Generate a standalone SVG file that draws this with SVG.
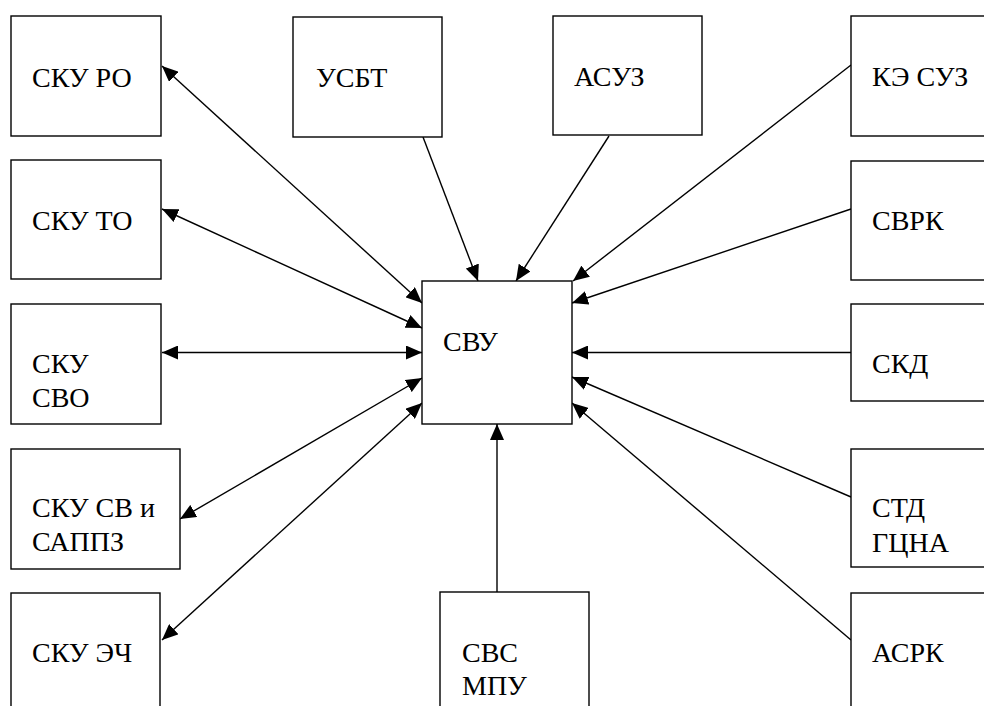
<svg xmlns="http://www.w3.org/2000/svg" width="984" height="706" viewBox="0 0 984 706">
  <style>
    .box { fill: #fff; stroke: #000; stroke-width: 1.4; }
    .link { stroke: #000; stroke-width: 1.4; fill: none; }
  </style>
  <defs>
    <marker id="head" markerUnits="userSpaceOnUse" markerWidth="16" markerHeight="14" refX="16" refY="7" orient="auto-start-reverse">
      <path d="M0,0 L16,7 L0,14 Z" fill="#000"/>
    </marker>
  </defs>

  <rect width="984" height="706" fill="#fff"/>

  <g id="connectors">
    <!-- bidirectional links on the left -->
    <line class="link" x1="162" y1="66" x2="422" y2="303" marker-start="url(#head)" marker-end="url(#head)"/>
    <line class="link" x1="162" y1="209" x2="422" y2="328" marker-start="url(#head)" marker-end="url(#head)"/>
    <line class="link" x1="162" y1="352.5" x2="422" y2="352.5" marker-start="url(#head)" marker-end="url(#head)"/>
    <line class="link" x1="180" y1="519" x2="422" y2="378" marker-start="url(#head)" marker-end="url(#head)"/>
    <line class="link" x1="162" y1="640" x2="422" y2="403" marker-start="url(#head)" marker-end="url(#head)"/>
    <!-- inbound links from the top -->
    <line class="link" x1="423" y1="137" x2="478" y2="281" marker-end="url(#head)"/>
    <line class="link" x1="609" y1="136" x2="516" y2="281" marker-end="url(#head)"/>
    <line class="link" x1="851" y1="65" x2="573" y2="281" marker-end="url(#head)"/>
    <!-- inbound links from the right -->
    <line class="link" x1="851" y1="209" x2="572" y2="303" marker-end="url(#head)"/>
    <line class="link" x1="851" y1="352.5" x2="572" y2="352.5" marker-end="url(#head)"/>
    <line class="link" x1="851" y1="497" x2="572" y2="377" marker-end="url(#head)"/>
    <line class="link" x1="851" y1="640" x2="572" y2="403" marker-end="url(#head)"/>
    <!-- inbound link from below -->
    <line class="link" x1="497" y1="592" x2="497" y2="424" marker-end="url(#head)"/>
  </g>

  <g id="svu">
    <rect class="box" x="422" y="281" width="150" height="143"/>
    <text x="443" y="351" font-family="Liberation Serif" font-size="28">СВУ</text>
  </g>

  <g id="sku-ro">
    <rect class="box" x="11" y="16" width="150" height="120"/>
    <text x="32" y="87" font-family="Liberation Serif" font-size="28">СКУ РО</text>
  </g>
  <g id="sku-to">
    <rect class="box" x="11" y="160" width="150" height="119"/>
    <text x="32" y="230" font-family="Liberation Serif" font-size="28">СКУ ТО</text>
  </g>
  <g id="sku-svo">
    <rect class="box" x="11" y="304" width="150" height="120"/>
    <text x="32" y="373" font-family="Liberation Serif" font-size="28">СКУ</text>
    <text x="32" y="407" font-family="Liberation Serif" font-size="28">СВО</text>
  </g>
  <g id="sku-sv-sappz">
    <rect class="box" x="11" y="449" width="169" height="120"/>
    <text x="32" y="517" font-family="Liberation Serif" font-size="28">СКУ СВ и</text>
    <text x="32" y="551" font-family="Liberation Serif" font-size="28">САППЗ</text>
  </g>
  <g id="sku-ech">
    <rect class="box" x="11" y="593" width="149" height="130"/>
    <text x="32" y="662" font-family="Liberation Serif" font-size="28">СКУ ЭЧ</text>
  </g>

  <g id="usbt">
    <rect class="box" x="293" y="17" width="149" height="120"/>
    <text x="316" y="87" font-family="Liberation Serif" font-size="28">УСБТ</text>
  </g>
  <g id="asuz">
    <rect class="box" x="553" y="16" width="149" height="119"/>
    <text x="574" y="86" font-family="Liberation Serif" font-size="28">АСУЗ</text>
  </g>

  <g id="ke-suz">
    <rect class="box" x="851" y="16" width="150" height="120"/>
    <text x="872" y="86" font-family="Liberation Serif" font-size="28">КЭ СУЗ</text>
  </g>
  <g id="svrk">
    <rect class="box" x="851" y="161" width="150" height="119"/>
    <text x="872" y="230" font-family="Liberation Serif" font-size="28">СВРК</text>
  </g>
  <g id="skd">
    <rect class="box" x="851" y="304" width="150" height="97"/>
    <text x="872" y="373" font-family="Liberation Serif" font-size="28">СКД</text>
  </g>
  <g id="std-gtsna">
    <rect class="box" x="851" y="449" width="150" height="118"/>
    <text x="872" y="517" font-family="Liberation Serif" font-size="28">СТД</text>
    <text x="872" y="552" font-family="Liberation Serif" font-size="28">ГЦНА</text>
  </g>
  <g id="asrk">
    <rect class="box" x="851" y="593" width="150" height="130"/>
    <text x="872" y="662" font-family="Liberation Serif" font-size="28">АСРК</text>
  </g>

  <g id="svs-mpu">
    <rect class="box" x="440" y="592" width="149" height="130"/>
    <text x="462" y="662" font-family="Liberation Serif" font-size="28">СВС</text>
    <text x="462" y="695" font-family="Liberation Serif" font-size="28">МПУ</text>
  </g>
</svg>
